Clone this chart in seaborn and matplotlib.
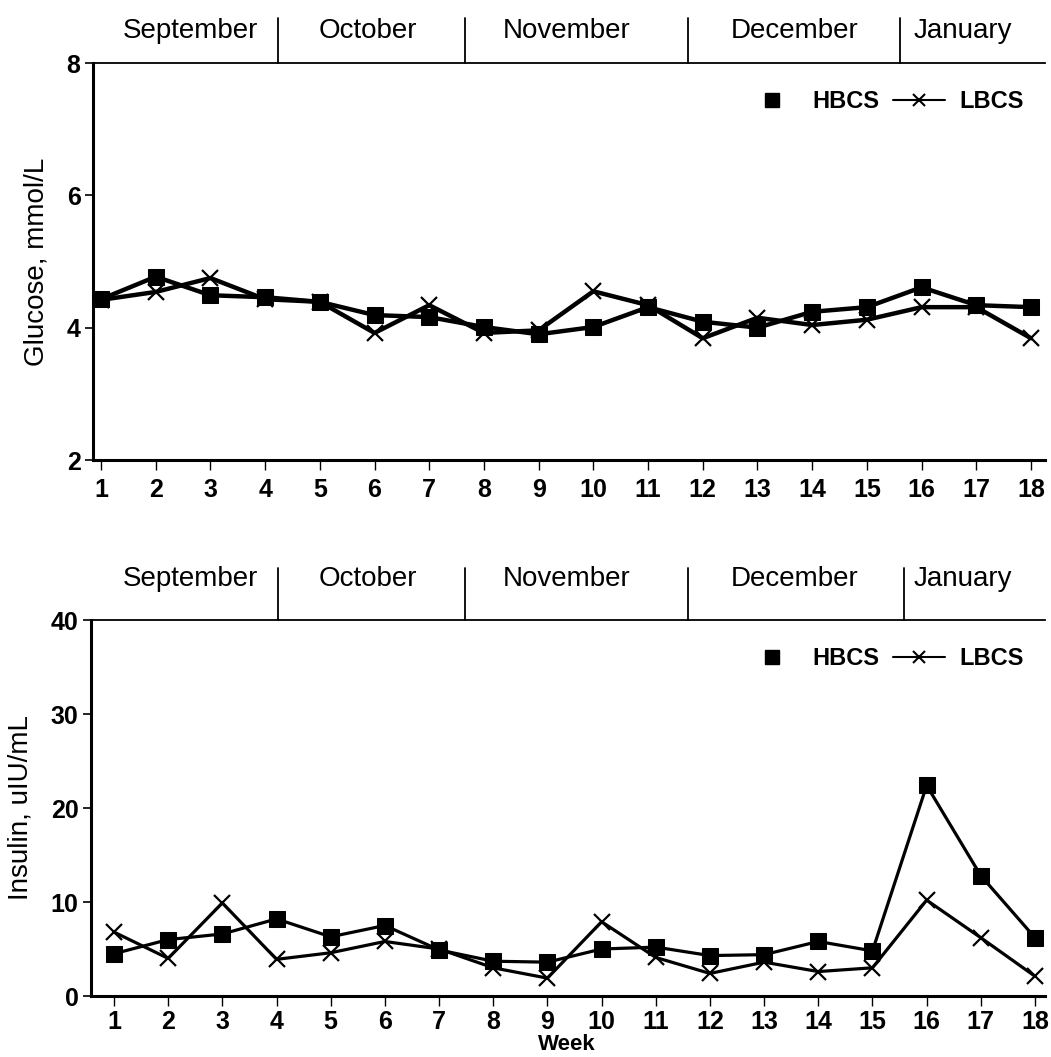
import matplotlib
matplotlib.use("Agg")
import matplotlib.pyplot as plt
import seaborn as sns
import pandas as pd
from matplotlib.lines import Line2D
from matplotlib.transforms import blended_transform_factory

weeks = list(range(1, 19))
glucose_hbcs = [4.43, 4.77, 4.49, 4.46, 4.39, 4.19, 4.16, 4.01, 3.90, 4.01, 4.31, 4.09, 4.00, 4.24, 4.31, 4.61, 4.34, 4.31]
glucose_lbcs = [4.42, 4.54, 4.75, 4.43, 4.39, 3.92, 4.34, 3.92, 3.96, 4.55, 4.34, 3.84, 4.15, 4.04, 4.12, 4.31, 4.31, 3.84]
insulin_hbcs = [4.5, 6.0, 6.6, 8.2, 6.3, 7.5, 4.9, 3.7, 3.6, 5.0, 5.2, 4.3, 4.4, 5.8, 4.8, 22.4, 12.8, 6.2]
insulin_lbcs = [6.8, 4.0, 9.9, 3.9, 4.6, 5.8, 5.0, 3.0, 1.9, 7.9, 4.1, 2.4, 3.6, 2.6, 3.0, 10.2, 6.2, 2.1]
months = ["September", "October", "November", "December", "January"]
series_names = ["HBCS", "LBCS"]

sns.set_style("white")
plt.rcParams['font.family'] = ['Liberation Sans', 'DejaVu Sans']
plt.rcParams.update({"text.color": "black", "axes.labelcolor": "black",
                     "xtick.color": "black", "ytick.color": "black"})

fig = plt.figure(figsize=(10.51, 10.57), dpi=100)
ax1 = fig.add_axes([93/1051, 1-460/1057, (1045-93)/1051, 397/1057])
ax2 = fig.add_axes([91/1051, 1-996/1057, (1045-91)/1051, 376/1057])


def draw(ax, h, l, lw, ylim, yticks, ylabel, xlim, dividers, label_x, div_h, text_frac, xpad):
    df_h = pd.DataFrame({"Week": weeks, "value": h})
    df_l = pd.DataFrame({"Week": weeks, "value": l})
    sns.lineplot(data=df_h, x="Week", y="value", color="black", marker="s",
                 linewidth=lw, markersize=11, markeredgecolor="black", ax=ax)
    sns.lineplot(data=df_l, x="Week", y="value", color="black", marker="x",
                 linewidth=lw, markersize=11, markeredgewidth=1.6,
                 markeredgecolor="black", ax=ax)
    ax.set_xlim(*xlim)
    ax.set_ylim(*ylim)
    ax.set_xticks(weeks)
    ax.set_yticks(yticks)
    for lab in ax.get_xticklabels() + ax.get_yticklabels():
        lab.set_fontweight("bold")
        lab.set_fontsize(18)
    ax.tick_params(axis="x", direction="out", length=7, width=1, pad=xpad, color="black", bottom=True)
    ax.tick_params(axis="y", direction="out", length=6, width=1.2, pad=3, color="black", left=True)
    for s in ["left", "bottom", "top"]:
        ax.spines[s].set_visible(True)
        ax.spines[s].set_color("black")
    ax.spines["left"].set_linewidth(2.2)
    ax.spines["bottom"].set_linewidth(2.2)
    ax.spines["top"].set_linewidth(1.3)
    ax.spines["right"].set_visible(False)
    ax.set_ylabel(ylabel, fontsize=20, labelpad=12)
    ax.set_xlabel("")
    ax.grid(False)
    tr = blended_transform_factory(ax.transData, ax.transAxes)
    for d in dividers:
        ax.plot([d, d], [1, 1 + div_h], color="black", lw=1.3, transform=tr, clip_on=False)
    for m, x in zip(months, label_x):
        ax.text(x, 1 + div_h * text_frac, m, transform=tr, ha="center", va="center", fontsize=20)
    handles = [Line2D([], [], color="black", marker="s", linestyle="none", markersize=10),
               Line2D([], [], color="black", marker="x", linestyle="-", lw=1.5, markersize=9, markeredgewidth=1.5)]
    ax.legend(handles, series_names, loc="upper right", ncol=2, frameon=False,
              prop={"weight": "bold", "size": 17}, handlelength=2.2, columnspacing=0.6,
              handletextpad=0.6, bbox_to_anchor=(1.0, 0.985))


def px2week(px, x1px, spacing):
    return 1 + (px - x1px) / spacing

# top panel
sp1 = (1031 - 101) / 17
xlim1 = (px2week(93, 101, sp1), px2week(1045, 101, sp1))
div1 = [px2week(p, 101, sp1) for p in [278, 465, 688, 900]]
lab1 = [px2week(p, 101, sp1) for p in [190, 368, 567, 795, 963]]
draw(ax1, glucose_hbcs, glucose_lbcs, 3.2, (2, 8), [2, 4, 6, 8],
     "Glucose, mmol/L", xlim1, div1, lab1, 45/397, 0.7, 6)

# bottom panel
sp2 = (1035 - 114) / 17
xlim2 = (px2week(91, 114, sp2), px2week(1045, 114, sp2))
div2 = [px2week(p, 114, sp2) for p in [278, 465, 688, 904]]
lab2 = [px2week(p, 114, sp2) for p in [190, 368, 567, 795, 963]]
draw(ax2, insulin_hbcs, insulin_lbcs, 2.3, (0, 40), [0, 10, 20, 30, 40],
     "Insulin, uIU/mL", xlim2, div2, lab2, 52/376, 0.78, 3)
fig.text(567/1051, 1 - 1045/1057, "Week", ha="center", va="center",
         fontsize=16, fontweight="bold")

fig.savefig("out.png", dpi=100, facecolor="white")
